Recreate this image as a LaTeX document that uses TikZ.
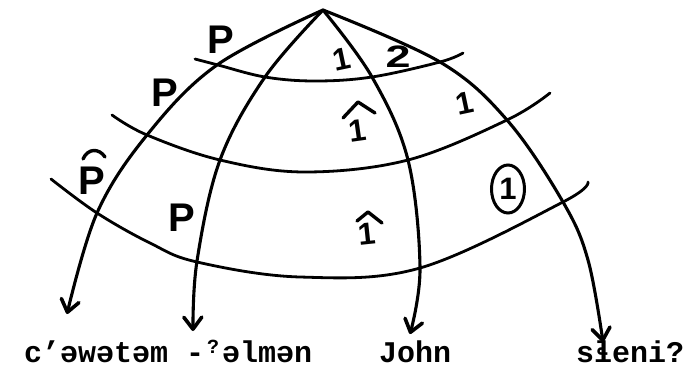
\documentclass[tikz,border=0pt]{standalone}
\usepackage{fontspec}
\usetikzlibrary{arrows.meta,shapes.geometric}
\newfontfamily\hand{Liberation Sans}[BoldFont={* Bold}]
\newfontfamily\typew{Liberation Mono}[BoldFont={* Bold}]
\begin{document}
\begin{tikzpicture}[x=1pt,y=-1pt,
  meridian/.style={line width=3.1pt,line cap=round,-{Straight Barb[length=12pt,width=18pt,line width=3.6pt,line cap=round,line join=round]}},
  parallel/.style={line width=2.8pt,line cap=round},
  hat/.style={line width=3.4pt,line cap=round,line join=round},
  lab/.style={font=\hand\bfseries\fontsize{40}{40}\selectfont,inner sep=0pt},
  num/.style={font=\hand\bfseries\fontsize{31}{31}\selectfont,inner sep=0pt},
  word/.style={font=\typew\bfseries\fontsize{30}{30}\selectfont,inner sep=0pt,anchor=base west}]
\useasboundingbox (0,0) rectangle (689,367);
\coordinate (apex) at (323,10);
\coordinate (tipA) at (67,314);
\coordinate (tipB) at (193,331);
\coordinate (tipC) at (410,334);
\coordinate (tipD) at (603,342);
% meridians
\draw[meridian] plot[smooth,tension=0.6] coordinates {(apex) (217,65) (147,135) (97,213) (tipA)};
\draw[meridian] plot[smooth,tension=0.6] coordinates {(apex) (265,77) (220,160) (197,261) (tipB)};
\draw[meridian] plot[smooth,tension=0.6] coordinates {(apex) (372,77) (408,160) (420,268) (tipC)};
\draw[meridian] plot[smooth,tension=0.6] coordinates {(apex) (440,62) (507,120) (563,202) (588,260) (tipD)};
% parallels
\draw[parallel] plot[smooth,tension=0.6] coordinates {(195,59) (218,65) (265,77) (315,81) (372,77) (440,62) (463,53)};
\draw[parallel] plot[smooth,tension=0.6] coordinates {(112,115) (147,135) (220,160) (305,172) (408,160) (507,120) (550,93)};
\draw[parallel] plot[smooth,tension=0.6] coordinates {(51,179) (97,213) (150,243) (197,262) (300,277) (420,268) (563,202) (588,182)};
% labels
\node[lab] (p1) at (221,40) {P};
\node[lab] (p2) at (165,93) {P};
\node[lab] (p3) at (92,181) {P};
\draw[hat] (83,159) .. controls (88,148) and (99,148) .. (105,157);
\node[lab] (p4) at (182,218) {P};
\node[num,rotate=12] (n1) at (342,59) {1};
\node[num] (n2) at (398,57) {\scalebox{1.45}[1]{2}};
\node[num,rotate=12] (n3) at (465,103) {1};
\node[num,rotate=8] (n4) at (358,131) {1};
\draw[hat] (343,118) -- (358,102) -- (375,113);
\node[num,rotate=6] (n5) at (367,234) {1};
\draw[hat] (357,221) -- (368,212) -- (382,223);
\node[draw,ellipse,line width=3pt,minimum width=33pt,minimum height=48pt,inner sep=0pt,num] (c1) at (508,189) {1};
% words
\node[word] (w1) at (24,362) {c’əwətəm -\makebox[0.6em]{\raisebox{0.3em}{\fontsize{20}{20}\selectfont ?}}əlmən};
\node[word] (w2) at (379,362) {John};
\node[word] (w3) at (576,362) {sɬeni?};
\end{tikzpicture}
\end{document}
